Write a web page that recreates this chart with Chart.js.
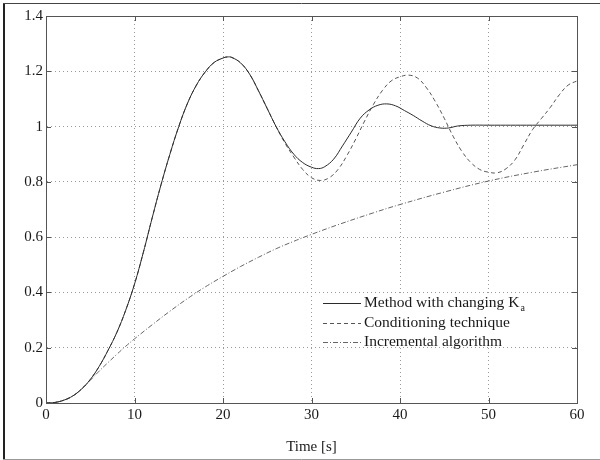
<!DOCTYPE html>
<html>
<head>
<meta charset="utf-8">
<script src="https://cdn.jsdelivr.net/npm/chart.js@4.4.0/dist/chart.umd.min.js"></script>
<style>
    html, body { margin: 0; padding: 0; background: #fff; }
    #wrap { width: 600px; height: 460px; }
</style>
</head>
<body>
<div id="wrap"><canvas id="chart" width="600" height="460"></canvas></div>
<script>
    'use strict';

    // tick labels
    const xTickLabels = ['0', '10', '20', '30', '40', '50', '60'];
    const yTickLabels = ['0', '0.2', '0.4', '0.6', '0.8', '1', '1.2', '1.4'];

    const seriesNames = ['Method with changing K', 'Conditioning technique', 'Incremental algorithm'];

    // method with changing Ka (solid)
    const methodT = [0, 1, 2, 3, 4, 5, 6, 7, 8, 9, 10, 11, 12, 13, 14, 15, 16, 17, 18, 19, 20, 20.5, 21, 22, 23, 24, 25, 26, 27, 28, 29, 30, 30.8, 31.5, 32.5, 33.5, 34.5, 35.5, 36.5, 37.5, 38.5, 39.5, 40.5, 41.5, 42.5, 43.5, 44.5, 45.5, 46.5, 48, 50, 55, 60];
    const methodY = [0, 0.002, 0.01, 0.025, 0.05, 0.085, 0.132, 0.19, 0.255, 0.335, 0.43, 0.545, 0.67, 0.79, 0.90, 1.0, 1.085, 1.15, 1.198, 1.232, 1.248, 1.252, 1.25, 1.23, 1.19, 1.13, 1.065, 1.0, 0.945, 0.90, 0.87, 0.853, 0.848, 0.855, 0.882, 0.93, 0.98, 1.03, 1.06, 1.077, 1.082, 1.075, 1.058, 1.04, 1.02, 1.003, 0.995, 0.995, 1.002, 1.005, 1.005, 1.005, 1.005];

    // conditioning technique (dashed)
    const condT = [0, 1, 2, 3, 4, 5, 6, 7, 8, 9, 10, 11, 12, 13, 14, 15, 16, 17, 18, 19, 20, 20.5, 21, 22, 23, 24, 25, 26, 27, 28, 29, 30, 31, 32, 33, 34, 35, 36, 37, 38, 39, 40, 41, 42, 43, 44, 45, 46, 47, 48, 49, 50, 51, 52, 53, 54, 55, 56, 57, 58, 59, 60];
    const condY = [0, 0.002, 0.01, 0.025, 0.05, 0.085, 0.132, 0.19, 0.255, 0.335, 0.43, 0.545, 0.67, 0.79, 0.90, 1.0, 1.085, 1.15, 1.198, 1.232, 1.248, 1.252, 1.25, 1.23, 1.19, 1.13, 1.065, 1.0, 0.94, 0.89, 0.845, 0.815, 0.805, 0.815, 0.845, 0.895, 0.955, 1.02, 1.08, 1.13, 1.165, 1.18, 1.186, 1.175, 1.14, 1.09, 1.03, 0.965, 0.91, 0.87, 0.845, 0.835, 0.833, 0.848, 0.88, 0.935, 0.99, 1.03, 1.07, 1.115, 1.15, 1.165];

    // incremental algorithm (dash-dot)
    const incrT = [0, 1, 2, 3, 4, 5, 6, 7, 8, 9, 10, 12, 14, 16, 18, 20, 22, 24, 26, 28, 30, 33, 37, 40, 45, 50, 55, 60];
    const incrY = [0, 0.002, 0.01, 0.025, 0.05, 0.082, 0.115, 0.146, 0.176, 0.205, 0.232, 0.283, 0.332, 0.378, 0.42, 0.458, 0.494, 0.527, 0.558, 0.585, 0.61, 0.645, 0.688, 0.718, 0.763, 0.803, 0.835, 0.862];

    const SERIF = '"Liberation Serif", "DejaVu Serif", serif';

    function toPoints(ts, ys) {
        return ts.map(function(t, i) { return { x: t, y: ys[i] }; });
    }

    const styles = [
        { color: '#2b2b2b', dash: [] },
        { color: '#555', dash: [4, 3] },
        { color: '#666', dash: [5, 2, 1, 2] }
    ];

    const decorPlugin = {
        id: 'decor',
        beforeDatasetsDraw: function(chart) {
            const ctx = chart.ctx;
            const a = chart.chartArea;
            // legend background
            ctx.save();
            ctx.fillStyle = '#fff';
            ctx.fillRect(319, 293, a.right - 320, 53);
            ctx.restore();
        },
        afterDatasetsDraw: function(chart) {
            const ctx = chart.ctx;
            const a = chart.chartArea;
            const xs = chart.scales.x, ys = chart.scales.y;
            ctx.save();
            // box
            ctx.strokeStyle = '#555';
            ctx.lineWidth = 1;
            ctx.strokeRect(Math.round(a.left) + 0.5, Math.round(a.top) + 0.5, Math.round(a.right - a.left), Math.round(a.bottom - a.top));
            // inward ticks
            ctx.beginPath();
            xs.ticks.forEach(function(t) {
                const px = Math.round(xs.getPixelForValue(t.value)) + 0.5;
                ctx.moveTo(px, a.bottom); ctx.lineTo(px, a.bottom - 5);
                ctx.moveTo(px, a.top); ctx.lineTo(px, a.top + 5);
            });
            ys.ticks.forEach(function(t) {
                const py = Math.round(ys.getPixelForValue(t.value)) + 0.5;
                ctx.moveTo(a.left, py); ctx.lineTo(a.left + 5, py);
                ctx.moveTo(a.right, py); ctx.lineTo(a.right - 5, py);
            });
            ctx.stroke();

            // legend
            const rows = [303, 323, 342];
            ctx.font = '15.5px ' + SERIF;
            ctx.textBaseline = 'middle';
            ctx.fillStyle = '#1a1a1a';
            seriesNames.forEach(function(name, i) {
                ctx.strokeStyle = styles[i].color;
                ctx.setLineDash(styles[i].dash);
                ctx.beginPath();
                ctx.moveTo(323, rows[i] + 0.5);
                ctx.lineTo(361, rows[i] + 0.5);
                ctx.stroke();
                ctx.setLineDash([]);
                ctx.fillText(name, 364, rows[i]);
                if (i === 0) {
                    const w = ctx.measureText(name).width;
                    ctx.font = '10px ' + SERIF;
                    ctx.fillText('a', 364 + w + 1, rows[i] + 5);
                    ctx.font = '15.5px ' + SERIF;
                }
            });

            // figure frame
            ctx.strokeStyle = '#222';
            ctx.lineWidth = 2;
            ctx.beginPath();
            ctx.moveTo(4, 3); ctx.lineTo(4, 459);
            ctx.stroke();
            ctx.lineWidth = 1;
            ctx.strokeStyle = '#444';
            ctx.beginPath();
            ctx.moveTo(3, 3.5); ctx.lineTo(600, 3.5);
            ctx.stroke();
            ctx.strokeStyle = '#999';
            ctx.beginPath();
            ctx.moveTo(3, 459.5); ctx.lineTo(600, 459.5);
            ctx.stroke();
            ctx.restore();
        }
    };

    const tickFont = { family: SERIF, size: 15 };

    new Chart(document.getElementById('chart'), {
        type: 'line',
        data: {
            datasets: [
                { label: seriesNames[0], data: toPoints(methodT, methodY), borderColor: styles[0].color, borderDash: styles[0].dash, order: 0 },
                { label: seriesNames[1], data: toPoints(condT, condY), borderColor: styles[1].color, borderDash: styles[1].dash, order: 1 },
                { label: seriesNames[2], data: toPoints(incrT, incrY), borderColor: styles[2].color, borderDash: styles[2].dash, order: 2 }
            ]
        },
        options: {
            responsive: false,
            animation: false,
            layout: { padding: { left: 0, right: 23, top: 16, bottom: 0 } },
            elements: {
                point: { radius: 0 },
                line: { borderWidth: 1, tension: 0.4, fill: false }
            },
            plugins: { legend: { display: false }, tooltip: { enabled: false } },
            scales: {
                x: {
                    type: 'linear',
                    min: 0, max: 60,
                    afterFit: function(s) { s.height = 57; },
                    ticks: {
                        stepSize: 10, maxRotation: 0, padding: 3, color: '#1a1a1a', font: tickFont,
                        callback: function(v) { return xTickLabels[Math.round(v / 10)]; }
                    },
                    grid: { color: '#9a9a9a', drawTicks: false },
                    border: { display: true, color: '#555', dash: [1, 3] },
                    title: { display: true, text: 'Time [s]', color: '#1a1a1a', font: { family: SERIF, size: 15 }, padding: { top: 0, bottom: 4 } }
                },
                y: {
                    min: 0, max: 1.4,
                    afterFit: function(s) { s.width = 46; },
                    ticks: {
                        stepSize: 0.2, padding: 3, color: '#1a1a1a', font: tickFont,
                        callback: function(v) { return yTickLabels[Math.round(v / 0.2)]; }
                    },
                    grid: { color: '#9a9a9a', drawTicks: false },
                    border: { display: true, color: '#555', dash: [1, 3] }
                }
            }
        },
        plugins: [decorPlugin]
    });
</script>
</body>
</html>
